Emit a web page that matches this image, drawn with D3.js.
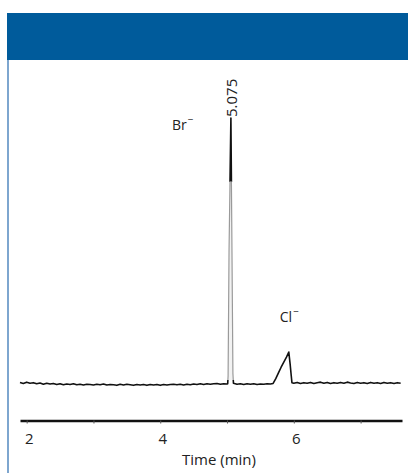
<!DOCTYPE html>
<html lang="en">
<head>
  <meta charset="UTF-8">
  <title>Chromatogram</title>
  <style>
    body { margin: 0; background: #fff; }
    svg { display: block; }
    text { font-family: "Open Sans", sans-serif; fill: #222; }
    .axis path.domain { stroke: #111; stroke-width: 2.6px; }
    .axis line { stroke: #555; }
    .axis text { font-size: 15px; }
  </style>
</head>
<body>
  <div id="chart"></div>
  <script src="https://d3js.org/d3.v7.min.js"></script>
  <script>
    // retention time (min) and detector signal (arbitrary, Br- peak = 100)
    const times = [
      1.90, 1.95, 2.00, 2.05, 2.10, 2.15, 2.20, 2.25, 2.30, 2.35, 2.40, 2.45,
      2.50, 2.55, 2.60, 2.65, 2.70, 2.75, 2.80, 2.85, 2.90, 2.95, 3.00, 3.05,
      3.10, 3.15, 3.20, 3.25, 3.30, 3.35, 3.40, 3.45, 3.50, 3.55, 3.60, 3.65,
      3.70, 3.75, 3.80, 3.85, 3.90, 3.95, 4.00, 4.05, 4.10, 4.15, 4.20, 4.25,
      4.30, 4.35, 4.40, 4.45, 4.50, 4.55, 4.60, 4.65, 4.70, 4.75, 4.80, 4.85,
      4.90, 4.95, 5.00,
      5.010, 5.016, 5.030, 5.058, 5.074, 5.088, 5.096,
      5.15, 5.20, 5.25, 5.30, 5.35, 5.40, 5.45, 5.50, 5.55, 5.60, 5.65,
      5.69, 5.73, 5.77, 5.81, 5.85, 5.89, 5.925, 5.945, 5.962, 5.972,
      6.00, 6.05, 6.10, 6.15, 6.20, 6.25, 6.30, 6.35, 6.40, 6.45, 6.50, 6.55,
      6.60, 6.65, 6.70, 6.75, 6.80, 6.85, 6.90, 6.95, 7.00, 7.05, 7.10, 7.15,
      7.20, 7.25, 7.30, 7.35, 7.40, 7.45, 7.50, 7.55, 7.60
    ];
    const signal = [
      0.6, 0.2, 0.7, 0.3, 0.5, 0.1, 0.4, -0.1, 0.3, 0.0, 0.2, -0.2,
      0.1, -0.3, 0.0, -0.2, 0.1, -0.3, -0.1, -0.4, -0.1, -0.2, -0.4, -0.1,
      -0.3, 0.0, -0.4, -0.2, -0.3, -0.5, -0.1, -0.4, -0.1, -0.3, -0.5, -0.2,
      -0.4, -0.2, -0.5, -0.2, -0.4, -0.2, -0.5, -0.2, -0.4, -0.2, -0.1, -0.3,
      -0.1, -0.4, -0.1, -0.3, 0.0, -0.2, 0.1, -0.2, 0.1, -0.1, 0.1, 0.2,
      -0.1, 0.1, 0.0,
      0.1, 3, 50, 100, 50, 4, 0.3,
      -0.1, 0.1, -0.2, 0.1, -0.1, 0.1, -0.2, 0.0, -0.1, 0.1, 0.0,
      0.2, 2.0, 4.2, 6.3, 8.2, 10.1, 12.0, 7.5, 3.0, 0.5,
      0.3, 0.6, 0.2, 0.5, 0.3, 0.6, 0.2, 0.5, 0.7, 0.3, 0.6, 0.2,
      0.5, 0.3, 0.6, 0.3, 0.7, 0.4, 0.2, 0.6, 0.3, 0.5, 0.2, 0.6,
      0.3, 0.5, 0.2, 0.6, 0.3, 0.5, 0.2, 0.5, 0.3
    ];
    const tickValues = [2, 3, 4, 5, 6, 7];
    const tickLabels = ["2", "", "4", "", "6", ""];
    const peaks = [
      { ion: "Br", time: 5.058, height: 100 },
      { ion: "Cl", time: 5.925, height: 12 }
    ];
    const brTimeLabel = "5.075";

    const W = 408, H = 473;
    const svg = d3.select('#chart').append('svg')
      .attr('width', W)
      .attr('height', H);

    // blue header band and side rule
    svg.append('rect')
      .attr('x', 7).attr('y', 13)
      .attr('width', W - 7).attr('height', 47)
      .attr('fill', '#005b9b');
    svg.append('rect')
      .attr('x', 7).attr('y', 60)
      .attr('width', 2).attr('height', H - 60)
      .attr('fill', '#7ea6cf');

    const x = d3.scaleLinear()
      .domain([1.9, 7.62])
      .range([20, 402]);
    const y = d3.scaleLinear()
      .domain([0, 100])
      .range([384, 118]);

    const pts = times.map(function (t, i) { return [t, signal[i]]; });
    const line = d3.line()
      .x(function (d) { return x(d[0]); })
      .y(function (d) { return y(d[1]); });

    svg.append('path')
      .datum(pts)
      .attr('fill', 'none')
      .attr('stroke', '#111')
      .attr('stroke-width', 1.6)
      .attr('stroke-linejoin', 'round')
      .attr('d', line);

    // lower part of the Br peak prints lighter (grey)
    svg.append('clipPath').attr('id', 'brLow')
      .append('rect')
      .attr('x', x(4.98)).attr('y', y(76))
      .attr('width', x(5.13) - x(4.98))
      .attr('height', y(1.5) - y(76));
    svg.append('rect')
      .attr('x', x(4.98)).attr('y', y(76))
      .attr('width', x(5.13) - x(4.98))
      .attr('height', y(1.5) - y(76))
      .attr('fill', '#fff');
    svg.append('path')
      .datum(pts)
      .attr('clip-path', 'url(#brLow)')
      .attr('fill', '#f2f2f2')
      .attr('stroke', '#9a9a9a')
      .attr('stroke-width', 1.2)
      .attr('d', line);

    // axis
    const axis = svg.append('g')
      .attr('class', 'axis')
      .attr('transform', 'translate(0,420.5)')
      .call(d3.axisBottom(x)
        .tickValues(tickValues)
        .tickFormat(function (d, i) { return tickLabels[i]; })
        .tickSize(3)
        .tickSizeOuter(0)
        .tickPadding(10));
    axis.selectAll('.tick text').attr('dx', 2);

    svg.append('text')
      .attr('x', 219).attr('y', 465)
      .attr('text-anchor', 'middle')
      .attr('font-size', 15)
      .text('Time (min)');

    // peak labels
    svg.append('text')
      .attr('transform', 'translate(' + (x(peaks[0].time) + 6) + ',' + (y(peaks[0].height) - 1) + ') rotate(-90)')
      .attr('font-size', 15)
      .text(brTimeLabel);

    const ionPos = [[-59, 12], [-9, -30]];
    peaks.forEach(function (p, i) {
      const t = svg.append('text')
        .attr('x', x(p.time) + ionPos[i][0])
        .attr('y', y(p.height) + ionPos[i][1])
        .attr('font-size', 14);
      t.append('tspan').text(p.ion);
      t.append('tspan')
        .attr('dx', 1).attr('dy', -7)
        .attr('font-size', 10)
        .text('\u2212');
    });
  </script>
</body>
</html>
